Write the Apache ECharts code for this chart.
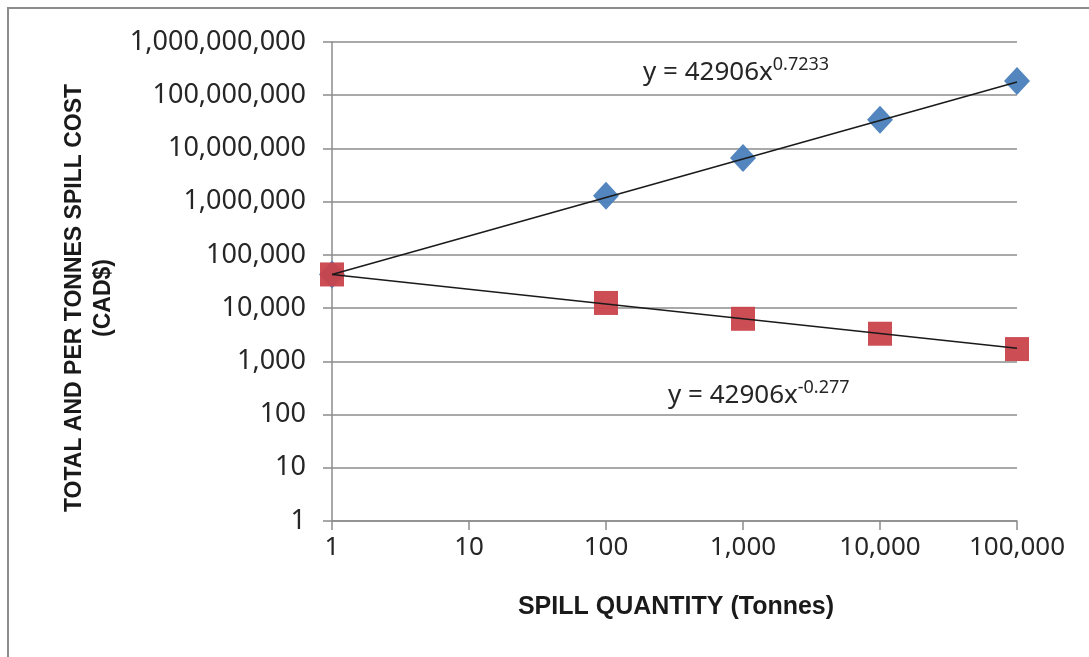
<!DOCTYPE html>
<html>
<head>
<meta charset="utf-8">
<script src="https://cdn.jsdelivr.net/npm/echarts@6/dist/echarts.min.js"></script>
<style>
  html, body { margin: 0; padding: 0; background: #ffffff; }
  #chart { width: 1089px; height: 657px; }
</style>
</head>
<body>
<div id="chart"></div>
<script>
// Spill quantities (tonnes)
const quantities = [1, 100, 1000, 10000, 100000];
// Total spill cost (CAD$)
const totalCost = [42906, 1290000, 6600000, 34500000, 186000000];
// Spill cost per tonne (CAD$)
const perTonneCost = [42906, 12500, 6300, 3300, 1700];
// Power-law fits: y = a * x^b
const totalFit = { a: 42906, b: 0.7233 };
const perTonneFit = { a: 42906, b: -0.277 };
const xRange = [1, 100000];

const fitLine = f => xRange.map(x => [x, f.a * Math.pow(x, f.b)]);
const fmt = v => Number(v).toLocaleString('en-US');

const tickFont = '"Noto Sans", "Open Sans", sans-serif';
const chart = echarts.init(document.getElementById('chart'));

chart.setOption({
  animation: false,
  backgroundColor: '#ffffff',
  grid: { left: 332, right: 72, top: 42, bottom: 136 },
  xAxis: {
    type: 'log', logBase: 10, min: 1, max: 100000,
    axisLine: { show: true, lineStyle: { color: '#8c8c8c', width: 1.5 } },
    axisTick: { show: true, length: 9, lineStyle: { color: '#8c8c8c', width: 1.5 } },
    splitLine: { show: false },
    minorTick: { show: false },
    axisLabel: { formatter: fmt, color: '#262626', fontFamily: tickFont, fontSize: 26, margin: 14 }
  },
  yAxis: {
    type: 'log', logBase: 10, min: 1, max: 1000000000,
    axisLine: { show: true, onZero: false, lineStyle: { color: '#8c8c8c', width: 1.5 } },
    axisTick: { show: true, length: 9, lineStyle: { color: '#8c8c8c', width: 1.5 } },
    splitLine: { show: true, lineStyle: { color: '#8c8c8c', width: 1.5 } },
    axisLabel: { formatter: fmt, color: '#262626', fontFamily: tickFont, fontSize: 27, margin: 26 }
  },
  series: [
    {
      name: 'Total fit', type: 'line', data: fitLine(totalFit), symbol: 'none',
      lineStyle: { color: '#1a1a1a', width: 1.5 }, z: 3
    },
    {
      name: 'Per tonne fit', type: 'line', data: fitLine(perTonneFit), symbol: 'none',
      lineStyle: { color: '#1a1a1a', width: 1.5 }, z: 3
    },
    {
      name: 'Total cost', type: 'scatter', symbol: 'diamond', symbolSize: [26, 28],
      data: quantities.map((q, i) => [q, totalCost[i]]),
      itemStyle: { color: '#4a7ebb', opacity: 0.95 }, z: 2
    },
    {
      name: 'Cost per tonne', type: 'scatter', symbol: 'rect', symbolSize: 24,
      data: quantities.map((q, i) => [q, perTonneCost[i]]),
      itemStyle: { color: '#c9434b', opacity: 0.95 }, z: 2
    }
  ],
  graphic: [
    {
      type: 'rect', shape: { x: 8, y: 8, width: 1200, height: 800 }, silent: true,
      style: { fill: 'none', stroke: '#8c8c8c', lineWidth: 2 }
    },
    {
      type: 'text', x: 89, y: 298, rotation: Math.PI / 2, silent: true,
      style: {
        text: 'TOTAL AND PER TONNES SPILL COST\n(CAD$)',
        font: 'bold 23px "Liberation Sans", Arial, sans-serif',
        fill: '#1a1a1a', align: 'center', verticalAlign: 'middle', lineHeight: 29
      }
    },
    {
      type: 'text', x: 676, y: 607, silent: true,
      style: {
        text: 'SPILL QUANTITY (Tonnes)',
        font: 'bold 25px "Liberation Sans Narrow", "Liberation Sans", sans-serif',
        fill: '#1a1a1a', align: 'center', verticalAlign: 'middle'
      }
    },
    {
      type: 'text', x: 643, y: 73, silent: true,
      style: {
        text: '{b|y = 42906x}{s|0.7233}',
        verticalAlign: 'middle',
        rich: {
          b: { font: '26px ' + tickFont, fill: '#262626' },
          s: { font: '18px ' + tickFont, fill: '#262626', padding: [0, 0, 16, 0] }
        }
      }
    },
    {
      type: 'text', x: 668, y: 396, silent: true,
      style: {
        text: '{b|y = 42906x}{s|-0.277}',
        verticalAlign: 'middle',
        rich: {
          b: { font: '26px ' + tickFont, fill: '#262626' },
          s: { font: '18px ' + tickFont, fill: '#262626', padding: [0, 0, 16, 0] }
        }
      }
    }
  ]
});
</script>
</body>
</html>
